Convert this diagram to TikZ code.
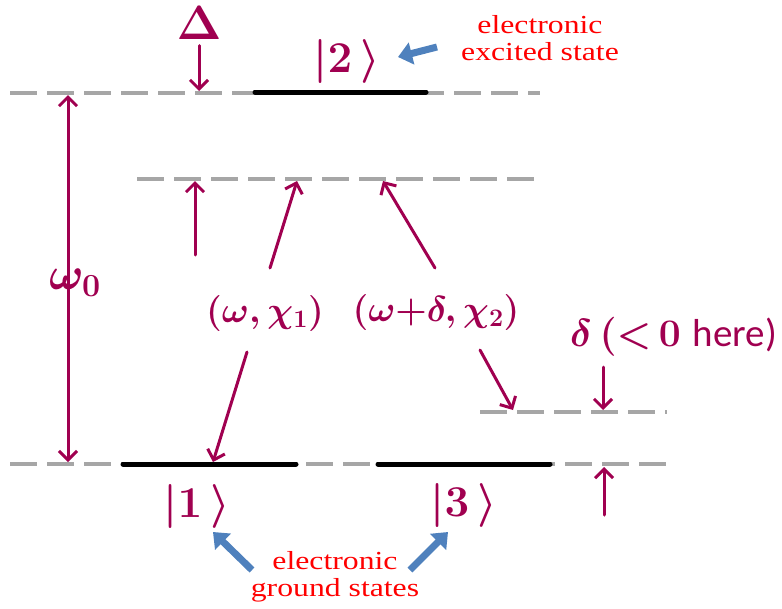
\RequirePackage{fix-cm}
\documentclass[tikz,border=0pt]{standalone}
\usepackage{fontspec}
\setsansfont{Carlito}
\newfontfamily\notefont{Liberation Serif}
\usetikzlibrary{arrows.meta}

\definecolor{ink}{RGB}{160,0,80}
\definecolor{callout}{RGB}{79,129,189}
\definecolor{levelgray}{RGB}{166,166,166}

\tikzset{
  levelline/.style={levelgray, line width=4pt, dash pattern=on 27pt off 10pt},
  statebar/.style={black, line width=5pt, line cap=round},
  pen/.style={ink, line width=3pt, line cap=round,
    -{Straight Barb[length=9pt,width=18pt]}},
  twoway/.style={pen, {Straight Barb[length=9pt,width=18pt]}-{Straight Barb[length=9pt,width=18pt]}},
  hand/.style={ink, inner sep=0pt, font=\fontsize{36}{40}\selectfont\boldmath},
  ket/.style={hand, font=\fontsize{44}{48}\selectfont\boldmath},
  callarrow/.style={callout, line width=7pt, -{Triangle[length=14pt,width=22pt]}},
  note/.style={red, inner sep=0pt, font=\notefont\fontsize{26}{27}\selectfont},
}
\newcommand{\notetext}[2]{\scalebox{1.22}[1]{\begin{tabular}{@{}c@{}}#1\\#2\end{tabular}}}

\begin{document}
\begin{tikzpicture}[x=1pt,y=-1pt]
\useasboundingbox (0,0) rectangle (782,608);

% levels
\coordinate (topL) at (10,93);
\coordinate (topR) at (540,93);
\coordinate (virtL) at (137,179);
\coordinate (virtR) at (540,179);
\coordinate (detL) at (480,412);
\coordinate (detR) at (667,412);
\coordinate (gndL) at (10,464);
\coordinate (gndR) at (667,464);
\draw[levelline] (topL) -- (topR);
\draw[levelline] (virtL) -- (virtR);
\draw[levelline] (detL) -- (detR);
\draw[levelline] (gndL) -- (gndR);

% states
\coordinate (s2L) at (255,92);
\coordinate (s2R) at (426,92);
\coordinate (s1L) at (123,464);
\coordinate (s1R) at (296,464);
\coordinate (s3L) at (378,464);
\coordinate (s3R) at (550,464);
\draw[statebar] (s2L) -- (s2R);
\draw[statebar] (s1L) -- (s1R);
\draw[statebar] (s3L) -- (s3R);

% labels
\node[hand, font=\fontsize{48}{52}\selectfont\boldmath] (Delta) at (199,23) {$\Delta$};
\node[ket] (ket2) at (347,61) {$|2\,\rangle$};
\node[ket] (ket1) at (197,506) {$|1\,\rangle$};
\node[ket] (ket3) at (464,505) {$|3\,\rangle$};
\node[hand, font=\fontsize{46}{50}\selectfont\boldmath] (omega0) at (75,283) {$\omega_0$};
\node[hand] (beam1) at (265,313) {$(\omega,\chi_1)$};
\node[hand] (beam2) at (436,312) {$(\omega{+}\delta,\chi_2)$};
\node[hand, anchor=west, font=\fontsize{39}{42}\selectfont\boldmath] (detune) at (570,337) {$\delta\,({<}\,0$ \textsf{here)}};
\node[note] (excited) at (540,42) {\notetext{electronic}{excited state}};
\node[note] (ground) at (335,578) {\notetext{electronic}{ground states}};

% arrow ends
\coordinate (DeltaTip) at (199,91);
\coordinate (gapTail) at (195,255);
\coordinate (gapTip) at (195,181);
\coordinate (w0Top) at (68,95);
\coordinate (w0Bot) at (68,462);
\coordinate (b1Tail) at (270,268);
\coordinate (b1Tip) at (297,181);
\coordinate (b1Out) at (247,352);
\coordinate (b1Down) at (213,462);
\coordinate (b2Tail) at (435,268);
\coordinate (b2Tip) at (383,181);
\coordinate (b2Out) at (480,350);
\coordinate (b2Down) at (513,410);
\coordinate (dTail) at (603,367);
\coordinate (dTip) at (603,410);
\coordinate (gTail) at (604,515);
\coordinate (gTip) at (604,467);

\draw[pen] (Delta.south) ++(0,6) -- (DeltaTip);
\draw[pen] (gapTail) -- (gapTip);
\draw[twoway] (w0Top) -- (w0Bot);
\draw[pen] (b1Tail) -- (b1Tip);
\draw[pen] (b1Out) -- (b1Down);
\draw[pen] (b2Tail) -- (b2Tip);
\draw[pen] (b2Out) -- (b2Down);
\draw[pen] (dTail) -- (dTip);
\draw[pen] (gTail) -- (gTip);

% pointers
\coordinate (p2Tail) at (437,47);
\coordinate (p2Tip) at (398,57);
\coordinate (p1Tail) at (252,570);
\coordinate (p1Tip) at (213,532);
\coordinate (p3Tail) at (410,570);
\coordinate (p3Tip) at (448,532);
\draw[callarrow] (p2Tail) -- (p2Tip);
\draw[callarrow] (p1Tail) -- (p1Tip);
\draw[callarrow] (p3Tail) -- (p3Tip);
\end{tikzpicture}
\end{document}
